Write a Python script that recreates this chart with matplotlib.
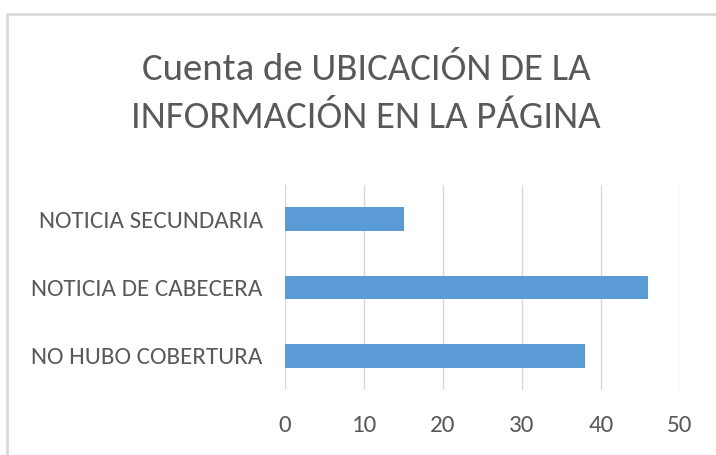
import matplotlib.pyplot as plt
from matplotlib.patches import Rectangle

categories = ['NO HUBO COBERTURA', 'NOTICIA DE CABECERA', 'NOTICIA SECUNDARIA']
counts = [38, 46, 15]
xticks = [0, 10, 20, 30, 40, 50]

font = ['Carlito', 'Open Sans', 'DejaVu Sans']
gray = '#595959'

fig = plt.figure(figsize=(7.16, 4.55), dpi=100)
ax = fig.add_axes([285/716, 1 - 390/455, 395/716, 205/455])

ax.barh(categories, counts, height=0.35, color='#5b9bd5', zorder=2)
ax.set_xlim(0, 50)
ax.set_ylim(-0.5, 2.5)
ax.set_xticks(xticks)
ax.grid(axis='x', color='#d9d9d9', linewidth=1, zorder=0)
for s in ax.spines.values():
    s.set_visible(False)
ax.tick_params(length=0, labelcolor=gray, labelsize=18)
ax.tick_params(axis='x', pad=18)
ax.tick_params(axis='y', pad=16)
for lab in ax.get_xticklabels() + ax.get_yticklabels():
    lab.set_family(font)

fig.text(366/716, 1 - 70/455, 'Cuenta de UBICACIÓN DE LA', ha='center', va='center',
         fontsize=28, color=gray, family=font)
fig.text(366/716, 1 - 118/455, 'INFORMACIÓN EN LA PÁGINA', ha='center', va='center',
         fontsize=28, color=gray, family=font)

# outer chart frame
fig.patches.append(Rectangle((7/716, -0.1), 1.2, 1 - 14/455 + 0.1, transform=fig.transFigure,
                             fill=False, edgecolor='#d9d9d9', linewidth=2))

fig.savefig('out.png', dpi=100)
